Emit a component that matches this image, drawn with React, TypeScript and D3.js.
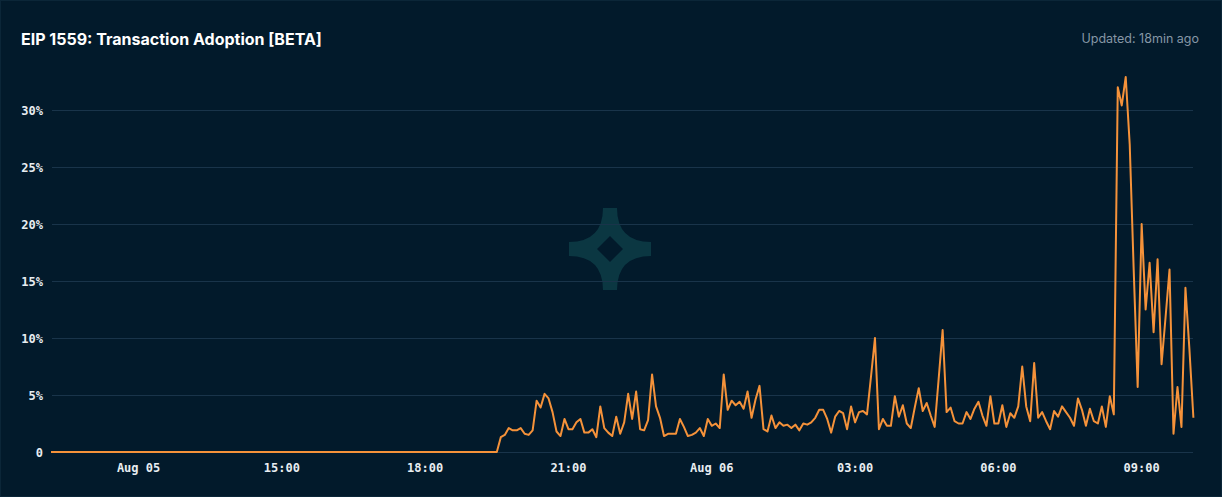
import React from "react";
import * as d3 from "d3";

// ---- data ----
const title = "EIP 1559: Transaction Adoption [BETA]";
const updatedText = "Updated: 18min ago";

// pre-fork flat segment (value 0)
const preForkTimes = ["2021-08-05 10:10", "2021-08-05 19:30"];
const preForkValues = [0, 0];

// post-fork samples every 5 minutes starting at 19:35
const seriesStart = "2021-08-05 19:35";
const stepMinutes = 5;
const adoptionPct = [
  1.3, 1.5, 2.1, 1.9, 1.9, 2.1, 1.6, 1.5, 1.9, 4.5,
  3.9, 5.1, 4.7, 3.5, 1.8, 1.4, 2.9, 2.0, 2.0, 2.6,
  2.9, 1.7, 1.7, 2.0, 1.3, 4.0, 2.1, 1.7, 1.4, 3.1,
  1.6, 2.6, 5.1, 2.9, 5.3, 2.0, 1.9, 2.8, 6.8, 4.0,
  3.0, 1.4, 1.6, 1.6, 1.6, 2.9, 2.2, 1.4, 1.5, 1.7,
  2.1, 1.4, 2.9, 2.3, 2.5, 2.1, 6.8, 3.7, 4.5, 4.1,
  4.4, 3.8, 5.3, 3.0, 4.6, 5.8, 2.0, 1.8, 3.2, 2.1,
  2.6, 2.3, 2.4, 2.1, 2.4, 1.9, 2.5, 2.4, 2.6, 3.0,
  3.7, 3.7, 2.9, 1.7, 3.1, 3.6, 3.4, 2.0, 4.0, 2.6,
  3.5, 3.6, 3.3, 6.6, 10.0, 2.0, 2.9, 2.3, 2.3, 4.9,
  3.1, 4.1, 2.5, 2.1, 3.9, 5.6, 3.6, 4.3, 3.2, 2.2,
  6.4, 10.7, 3.5, 3.9, 2.7, 2.5, 2.5, 3.5, 2.9, 3.8,
  4.4, 3.2, 2.3, 4.9, 2.5, 2.5, 4.1, 2.2, 3.4, 3.0,
  4.0, 7.5, 4.0, 2.7, 7.8, 3.0, 3.5, 2.7, 2.0, 3.6,
  3.1, 4.0, 3.5, 3.0, 2.3, 4.7, 3.7, 2.3, 3.8, 2.7,
  2.5, 4.0, 2.2, 4.9, 3.3, 32.0, 30.4, 32.9, 27.0, 16.0,
  5.7, 20.0, 12.5, 16.6, 10.5, 16.9, 7.7, 11.8, 16.0, 1.6,
  5.7, 2.2, 14.4, 9.0, 3.0,
];

const xDomain = ["2021-08-05 10:10", "2021-08-06 10:05"];
const xTickTimes = [
  "2021-08-05 12:00", "2021-08-05 15:00", "2021-08-05 18:00", "2021-08-05 21:00",
  "2021-08-06 00:00", "2021-08-06 03:00", "2021-08-06 06:00", "2021-08-06 09:00",
];
const xTickLabels = ["Aug 05", "15:00", "18:00", "21:00", "Aug 06", "03:00", "06:00", "09:00"];
const yTicks = [0, 5, 10, 15, 20, 25, 30];
const yTickLabels = ["0", "5%", "10%", "15%", "20%", "25%", "30%"];

// ---- layout ----
const W = 1222;
const H = 497;
const plotLeft = 51;
const plotRight = 1193.4;
const plotBottom = 452;
const plotTop30 = 110;

const BG = "#021a2b";
const GRID = "#19344a";
const LINE = "#f5923a";
const MONO = "'DejaVu Sans Mono', 'Liberation Mono', monospace";
const SANS = "Inter, 'Noto Sans', sans-serif";

function starPath(cx: number, cy: number, R: number, tipHalf: number, mid: number, hole: number) {
  const pts: string[] = [];
  for (let k = 0; k < 4; k++) {
    const a = (k * Math.PI) / 2 - Math.PI / 2;
    const ux = Math.cos(a), uy = Math.sin(a);
    const px = -uy, py = ux;
    const tipA = [cx + ux * R - px * tipHalf, cy + uy * R - py * tipHalf];
    const tipB = [cx + ux * R + px * tipHalf, cy + uy * R + py * tipHalf];
    const a2 = a + Math.PI / 2;
    const nx = Math.cos(a2), ny = Math.sin(a2);
    const nextA = [cx + nx * R + ny * tipHalf, cy + ny * R - nx * tipHalf];
    const ma = a + Math.PI / 4;
    const M = [cx + Math.cos(ma) * mid, cy + Math.sin(ma) * mid];
    const C = [2 * M[0] - (tipB[0] + nextA[0]) / 2, 2 * M[1] - (tipB[1] + nextA[1]) / 2];
    if (k === 0) pts.push(`M${tipA[0]},${tipA[1]}`);
    pts.push(`L${tipB[0]},${tipB[1]}`);
    pts.push(`Q${C[0]},${C[1]} ${nextA[0]},${nextA[1]}`);
  }
  let d = pts.join(" ") + "Z";
  d += ` M${cx},${cy - hole} L${cx + hole},${cy} L${cx},${cy + hole} L${cx - hole},${cy} Z`;
  return d;
}

export default function App() {
  const parse = d3.timeParse("%Y-%m-%d %H:%M")!;
  const t0 = parse(seriesStart)!;
  const points: { t: Date; v: number }[] = [
    ...preForkTimes.map((s, i) => ({ t: parse(s)!, v: preForkValues[i] })),
    ...adoptionPct.map((v, i) => ({ t: d3.timeMinute.offset(t0, i * stepMinutes), v })),
  ];

  const x = d3.scaleTime().domain(xDomain.map((s) => parse(s)!)).range([plotLeft, plotRight]);
  const y = d3.scaleLinear().domain([0, 30]).range([plotBottom, plotTop30]);

  const line = d3
    .line<{ t: Date; v: number }>()
    .x((d) => x(d.t))
    .y((d) => y(d.v));

  return (
    <div style={{ position: "fixed", left: 0, top: 0, width: W, height: H, background: BG }}>
      <svg width={W} height={H} style={{ display: "block" }}>
        <rect x={0} y={0} width={W} height={H} fill={BG} />
        <rect x={0.5} y={0.5} width={W - 1} height={H - 1} fill="none" stroke="#0b2638" />
        <text x={21} y={45} fill="#ffffff" fontFamily={SANS} fontWeight={700} fontSize={16}>
          {title}
        </text>
        <text x={1199} y={43} fill="#8697a6" fontFamily={SANS} fontSize={12.5} textAnchor="end">
          {updatedText}
        </text>

        <path d={starPath(610, 249, 41, 7, 22, 13)} fill="#0b3742" fillRule="evenodd" />

        {yTicks.map((v, i) => (
          <g key={v}>
            <line x1={52} x2={1193} y1={y(v) + 0.5} y2={y(v) + 0.5} stroke={GRID} strokeWidth={1} />
            <text
              x={43}
              y={y(v) + 4.5}
              textAnchor="end"
              fill="#e8edf1"
              fontFamily={MONO}
              fontWeight={700}
              fontSize={12}
            >
              {yTickLabels[i]}
            </text>
          </g>
        ))}

        {xTickTimes.map((s, i) => (
          <text
            key={s}
            x={x(parse(s)!)}
            y={472}
            textAnchor="middle"
            fill="#e8edf1"
            fontFamily={MONO}
            fontWeight={700}
            fontSize={12}
          >
            {xTickLabels[i]}
          </text>
        ))}

        <path d={line(points) || ""} fill="none" stroke={LINE} strokeWidth={2} strokeLinejoin="round" />
      </svg>
    </div>
  );
}
